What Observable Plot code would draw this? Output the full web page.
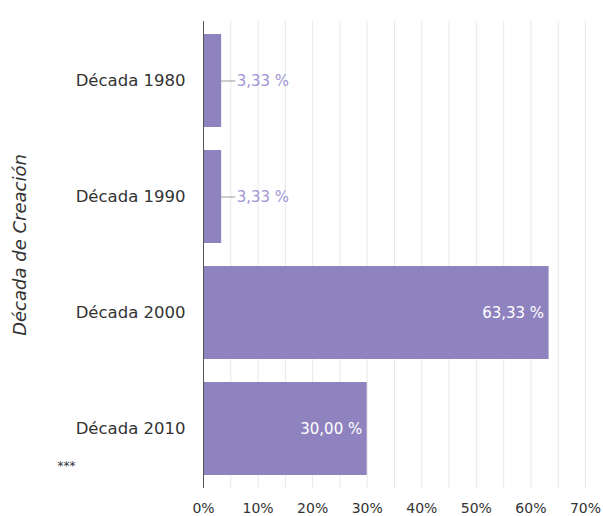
<!DOCTYPE html>
<html><head><meta charset="utf-8">
<script src="https://cdn.jsdelivr.net/npm/d3@7"></script>
<script src="https://cdn.jsdelivr.net/npm/@observablehq/plot@0.6"></script>
<style>body{margin:0;background:#fff} #chart svg{display:block}</style>
</head><body><div id="chart"></div>
<script>
const categories = ["Década 1980", "Década 1990", "Década 2000", "Década 2010"];
const values = [3.33, 3.33, 63.33, 30.00];
const xTicks = [0, 10, 20, 30, 40, 50, 60, 70];
const gridLines = [5, 10, 15, 20, 25, 30, 35, 40, 45, 50, 55, 60, 65, 70];
const axisTitle = "Década de Creación";
const footnote = "***";

const data = categories.map((c, i) => ({cat: c, v: values[i]}));
const fmt = v => v.toFixed(2).replace(".", ",") + " %";
const small = data.filter(d => d.v < 10);
const large = data.filter(d => d.v >= 10);
const font = "'DejaVu Sans', sans-serif";

const chart = Plot.plot({
  width: 603, height: 516,
  marginLeft: 203, marginRight: 18, marginTop: 21, marginBottom: 28,
  style: {fontFamily: font, fontSize: "14px", color: "#333", background: "#fff"},
  x: {domain: [0, 70]},
  y: {domain: categories, paddingInner: 0.2, paddingOuter: 0.1},
  marks: [
    Plot.ruleX(gridLines, {stroke: "#e8e8e8", strokeWidth: 1}),
    Plot.barX(data, {x: "v", y: "cat", fill: "#8f83bf"}),
    Plot.ruleY(small, {y: "cat", x1: "v", x2: d => d.v + 2.6, stroke: "#999", strokeWidth: 1}),
    Plot.text(small, {x: "v", y: "cat", text: d => fmt(d.v), dx: 15, textAnchor: "start", fill: "#a096d4", fontSize: 15}),
    Plot.text(large, {x: "v", y: "cat", text: d => fmt(d.v), dx: -5, textAnchor: "end", fill: "white", fontSize: 15}),
    Plot.ruleX([0], {stroke: "#555", strokeWidth: 1}),
    Plot.axisX(xTicks, {tickSize: 0, tickPadding: 15, tickFormat: d => d + "%", label: null, fontSize: 14}),
    Plot.axisY({tickSize: 0, tickPadding: 18, label: null, fontSize: 16.5}),
    Plot.text([axisTitle], {frameAnchor: "left", dx: -183, dy: -10, rotate: -90, textAnchor: "middle", fontStyle: "italic", fontSize: 18, fill: "#333"}),
    Plot.text([footnote], {frameAnchor: "bottom-left", dx: -137, dy: -19, textAnchor: "middle", fontSize: 12, fill: "#333"})
  ]
});
document.getElementById("chart").appendChild(chart);
</script>
</body></html>
